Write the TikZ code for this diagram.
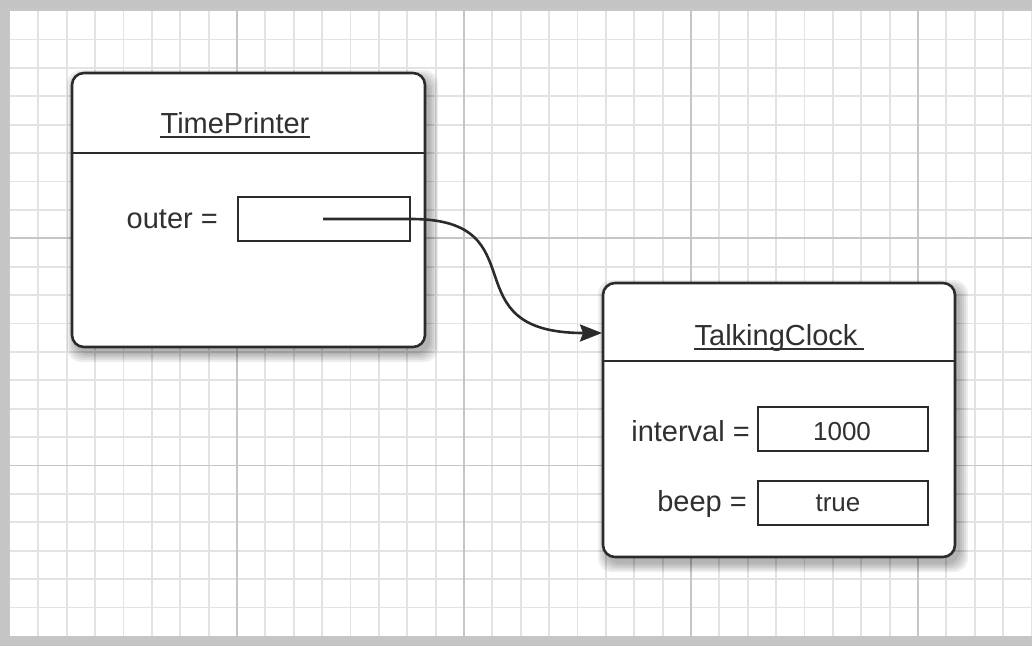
\documentclass[tikz,border=0pt]{standalone}
\usepackage{fontspec}
\setmainfont{Liberation Sans}
\usetikzlibrary{arrows.meta}
\definecolor{ink}{HTML}{2B2B2B}
\definecolor{txt}{HTML}{303030}
\definecolor{gminor}{HTML}{E3E3E3}
\definecolor{gmajor}{HTML}{C6C6C6}
\definecolor{frame}{HTML}{C4C4C4}
\begin{document}
\begin{tikzpicture}[x=1pt,y=-1pt,
  objbox/.style={draw=ink, line width=2.6pt, fill=white, rounded corners=12pt, inner sep=0pt},
  fieldbox/.style={draw=ink, line width=2.4pt, fill=white, inner sep=0pt, minimum height=44pt},
  lbl/.style={text=txt, font=\fontsize{29}{34}\selectfont, inner sep=0pt},
  val/.style={text=txt, font=\fontsize{26}{31}\selectfont, inner sep=0pt},
  minorline/.style={draw=gminor, line width=1.8pt},
  majorline/.style={draw=gmajor, line width=1.8pt},
  divider/.style={draw=ink, line width=2.4pt},
  uline/.style={draw=txt, line width=1.6pt},
  ptrline/.style={draw=ink, line width=2.6pt, -{Stealth[length=22pt,width=17pt,inset=3pt]}},
  softshadow/.style={fill=black, opacity=0.065, rounded corners=14pt},
]
% background frame and paper
\fill[frame] (0,0) rectangle (1032,646);
\useasboundingbox (0,0) rectangle (1032,646);
\fill[gray!45] (7,8) rectangle (1032,640);
\fill[white] (10,11) rectangle (1032,636);
% grid
\foreach \k in {1,...,36} {
  \pgfmathsetmacro\xx{10+\k*28.375}
  \draw[minorline] (\xx,11) -- (\xx,636);
}
\foreach \k in {1,...,21} {
  \pgfmathsetmacro\yy{11+\k*28.4}
  \draw[minorline] (10,\yy) -- (1032,\yy);
}
\foreach \xx in {237,464,691,918} \draw[majorline] (\xx,11) -- (\xx,636);
\foreach \yy in {238.2,465.4} \draw[majorline] (10,\yy) -- (1032,\yy);

% shadows
\foreach \s in {1,3,5,7,9} {
  \fill[softshadow] (72+4-\s,73+6-\s) rectangle (425+4+\s,347+6+\s);
  \fill[softshadow] (603+4-\s,283+6-\s) rectangle (955+4+\s,557+6+\s);
}

% TimePrinter object
\node[objbox, minimum width=353pt, minimum height=274pt] (tp) at (248.5,210) {};
\coordinate (tpdivL) at (72,153);
\coordinate (tpdivR) at (425,153);
\draw[divider] (tpdivL) -- (tpdivR);
\node[lbl, anchor=base] (tptitle) at (235,133) {TimePrinter};
\draw[uline] ([yshift=-4pt]tptitle.base west) -- ([yshift=-4pt]tptitle.base east);
\node[lbl, anchor=base east] (outerlbl) at (218,228) {outer =};
\node[fieldbox, minimum width=172pt] (outerbox) at (324,219) {};

% TalkingClock object
\node[objbox, minimum width=352pt, minimum height=274pt] (tc) at (779,420) {};
\coordinate (tcdivL) at (603,361);
\coordinate (tcdivR) at (955,361);
\draw[divider] (tcdivL) -- (tcdivR);
\node[lbl, anchor=base] (tctitle) at (776,345) {TalkingClock};
\draw[uline] ([yshift=-4pt]tctitle.base west) -- ([yshift=-4pt,xshift=6pt]tctitle.base east);
\node[lbl, anchor=base east] (intlbl) at (750,441) {interval =};
\node[fieldbox, minimum width=170pt] (intbox) at (843,429) {};
\node[val, anchor=base] (intval) at (842,440) {1000};
\node[lbl, anchor=base east] (beeplbl) at (747,511) {beep =};
\node[fieldbox, minimum width=170pt] (beepbox) at (843,503) {};
\node[val, anchor=base] (beepval) at (838,511) {true};

% pointer
\coordinate (ptr) at (323,219);
\coordinate (tip) at (602,333);
\draw[ptrline] (ptr) -- (outerbox.east) .. controls +(130,0) and +(-155,0) .. (tip);
\end{tikzpicture}
\end{document}
